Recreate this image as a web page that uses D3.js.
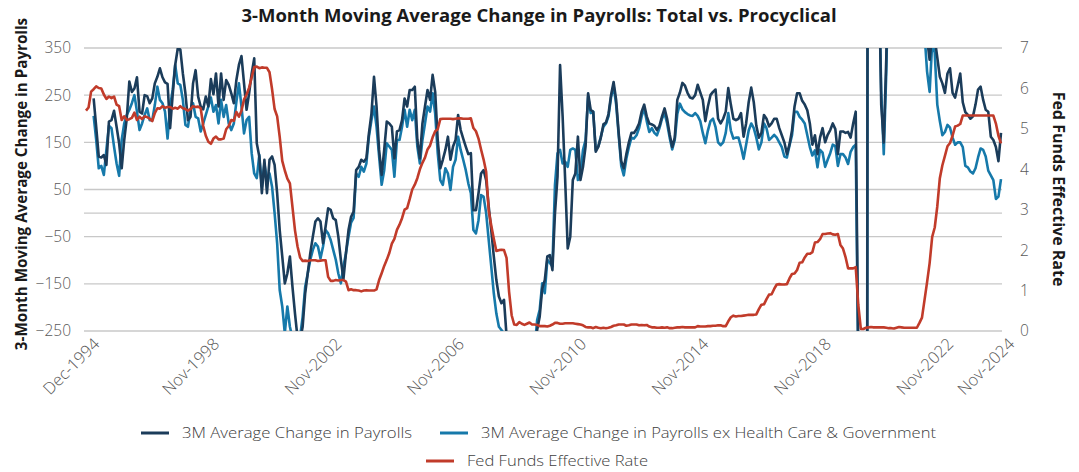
<!DOCTYPE html>
<html>
<head>
<meta charset="utf-8">
<script src="https://cdn.jsdelivr.net/npm/d3@7"></script>
<style>
  body { margin: 0; background: #fff; }
  svg { font-family: "Open Sans", "Noto Sans", sans-serif; }
</style>
</head>
<body>
<svg></svg>
<script>
var width = 1079;
var height = 472;

// monthly data, Dec-1994 .. Nov-2024 (thousands of jobs, 3M average)
var startMonth = new Date(1994, 11, 1);

var payrolls = [
  null,
  null, null, 243, 183, 120, 118, 123, 102, 194, 197, 217, 183,
  148, 95, 155, 201, 279, 257, 264, 288, 215, 211, 250, 248,
  233, 243, 275, 289, 307, 288, 277, 274, 180, 250, 314, 349,
  347, 296, 254, 197, 204, 275, 303, 247, 226, 220, 247, 226,
  284, 252, 296, 226, 296, 240, 282, 272, 254, 233, 282, 314,
  333, 275, 219, 254, 296, 328, 148, 120, 42, 113, 42, 113,
  120, 102, 42, -36, -92, -149, -128, -92, -156, -213, -265, -270,
  -241, -170, -128, -85, -50, -18, -11, -18, -64, -29, 10, 7,
  -11, -15, -50, -99, -140, -85, -36, -8, 3, 91, 98, 113,
  109, 116, 169, 211, 289, 226, 134, 81, 134, 194, 190, 183,
  116, 173, 176, 197, 243, 226, 261, 261, 268, 155, 116, 190,
  226, 261, 240, 293, 257, 155, 95, 113, 134, 162, 113, 141,
  155, 208, 176, 158, 141, 125, 127, 6, 6, 42, 84, 91,
  70, 14, -36, -92, -142, -177, -191, -184, -260, -380, -560, -690,
  -740, -780, -750, -690, -530, -430, -370, -300, -248, -220, -160, -142,
  -92, -89, -121, 0, 77, 314, 205, 70, -75, -50, 70, 84,
  162, 70, 98, 141, 254, 219, 215, 130, 141, 160, 188, 192,
  210, 250, 278, 240, 170, 110, 95, 125, 150, 170, 170, 178,
  190, 215, 230, 205, 190, 188, 185, 176, 185, 205, 222, 200,
  167, 140, 160, 240, 255, 276, 270, 255, 245, 243, 250, 272,
  256, 240, 195, 226, 250, 257, 262, 200, 190, 200, 215, 265,
  230, 200, 197, 200, 212, 162, 190, 235, 266, 235, 185, 160,
  170, 208, 200, 184, 190, 200, 200, 180, 165, 150, 125, 145,
  175, 226, 254, 254, 238, 230, 218, 190, 145, 165, 125, 160,
  180, 150, 166, 176, 190, 178, 125, 173, 173, 170, 172, 160,
  190, 215, -300, -7150, -6300, -4250, 3130, 2700, 1340, 990, 550, 230,
  150, 330, 640, 560, 540, 580, 760, 720, 560, 580, 560, 620,
  600, 650, 560, 480, 400, 370, 325, 380, 370, 330, 289, 275,
  255, 296, 307, 255, 245, 270, 296, 235, 214, 208, 200, 205,
  230, 262, 268, 240, 219, 215, 162, 155, 140, 110, 170
];

var payrollsExHcGov = [
  null,
  null, null, 206, 155, 95, 100, 81, 134, 185, 180, 141, 105,
  79, 155, 190, 208, 219, 233, 250, 215, 176, 190, 208, 222,
  197, 197, 229, 268, 240, 233, 215, 158, 226, 261, 314, 275,
  272, 240, 187, 183, 219, 233, 204, 201, 173, 190, 208, 226,
  245, 215, 229, 190, 240, 204, 229, 190, 176, 190, 236, 275,
  226, 169, 197, 204, 127, 84, 74, 123, 56, 105, 70, 84,
  56, 0, -64, -163, -198, -255, -198, -241, -265, -275, -280, -262,
  -220, -156, -128, -99, -78, -64, -71, -96, -71, -36, -43, -57,
  -78, -99, -128, -149, -113, -85, -50, -20, -10, 84, 77, 98,
  88, 105, 162, 197, 226, 183, 120, 60, 91, 148, 141, 134,
  77, 155, 155, 183, 219, 183, 219, 197, 219, 141, 105, 155,
  190, 226, 215, 254, 211, 127, 70, 60, 95, 84, 49, 98,
  113, 162, 134, 113, 91, 63, 42, -36, -43, -15, 38, 35,
  0, -57, -113, -170, -213, -241, -248, -255, -310, -420, -580, -700,
  -740, -770, -720, -650, -500, -410, -350, -290, -227, -205, -149, -170,
  -99, -106, -113, 60, 127, 134, 105, 109, 98, 134, 137, 134,
  70, 84, 134, 155, 247, 212, 215, 134, 141, 162, 183, 190,
  205, 245, 270, 230, 165, 100, 80, 115, 140, 160, 158, 165,
  180, 205, 222, 195, 172, 180, 170, 165, 180, 200, 212, 190,
  160, 135, 155, 210, 232, 220, 214, 210, 207, 206, 212, 206,
  195, 170, 148, 175, 195, 200, 182, 150, 144, 150, 170, 212,
  175, 158, 160, 160, 140, 115, 145, 175, 190, 180, 160, 135,
  150, 190, 180, 155, 160, 166, 160, 150, 140, 120, 118, 143,
  165, 215, 215, 204, 198, 190, 165, 140, 122, 133, 97, 134,
  128, 98, 113, 127, 145, 142, 100, 125, 125, 118, 104, 130,
  140, 145, -330, -5800, -5000, -3400, 2800, 2300, 1150, 880, 520, 260,
  125, 300, 560, 480, 470, 500, 620, 600, 470, 500, 470, 520,
  500, 560, 470, 420, 380, 300, 257, 360, 340, 230, 195, 165,
  172, 187, 181, 160, 145, 150, 150, 140, 100, 97, 88, 84,
  95, 118, 137, 134, 120, 90, 80, 70, 30, 35, 72
];

var fedFunds = [
  5.45,
  5.53, 5.92, 5.98, 6.05, 6.01, 6.00, 5.85, 5.74, 5.80, 5.76, 5.80, 5.60,
  5.56, 5.22, 5.31, 5.22, 5.24, 5.27, 5.40, 5.22, 5.30, 5.24, 5.31, 5.29,
  5.25, 5.19, 5.39, 5.51, 5.50, 5.56, 5.52, 5.54, 5.54, 5.50, 5.52, 5.50,
  5.56, 5.51, 5.49, 5.45, 5.49, 5.56, 5.54, 5.55, 5.51, 5.07, 4.83, 4.68,
  4.63, 4.76, 4.81, 4.74, 4.74, 4.76, 4.99, 5.07, 5.22, 5.20, 5.42, 5.30,
  5.45, 5.73, 5.85, 6.02, 6.27, 6.53, 6.54, 6.50, 6.52, 6.51, 6.51, 6.40,
  5.98, 5.49, 5.31, 4.80, 4.21, 3.97, 3.77, 3.65, 3.07, 2.49, 2.09, 1.82,
  1.73, 1.74, 1.73, 1.75, 1.75, 1.75, 1.73, 1.74, 1.75, 1.75, 1.34, 1.24,
  1.24, 1.26, 1.25, 1.26, 1.26, 1.22, 1.01, 1.03, 1.01, 1.01, 1.00, 0.98,
  1.00, 1.01, 1.00, 1.00, 1.00, 1.03, 1.26, 1.43, 1.61, 1.76, 1.93, 2.16,
  2.28, 2.50, 2.63, 2.79, 3.00, 3.04, 3.26, 3.50, 3.62, 3.78, 4.00, 4.16,
  4.29, 4.49, 4.59, 4.79, 4.94, 4.99, 5.24, 5.25, 5.25, 5.25, 5.25, 5.24,
  5.25, 5.26, 5.26, 5.25, 5.25, 5.25, 5.26, 5.02, 4.94, 4.76, 4.49, 4.24,
  3.94, 2.98, 2.61, 2.28, 1.98, 2.00, 2.01, 2.00, 1.81, 0.97, 0.39, 0.16,
  0.15, 0.22, 0.18, 0.15, 0.18, 0.21, 0.16, 0.16, 0.15, 0.12, 0.12, 0.12,
  0.11, 0.13, 0.16, 0.20, 0.20, 0.18, 0.18, 0.19, 0.19, 0.19, 0.19, 0.18,
  0.17, 0.16, 0.14, 0.10, 0.09, 0.09, 0.07, 0.10, 0.08, 0.07, 0.08, 0.07,
  0.08, 0.10, 0.13, 0.14, 0.16, 0.16, 0.16, 0.13, 0.14, 0.16, 0.16, 0.16,
  0.14, 0.15, 0.14, 0.15, 0.11, 0.09, 0.09, 0.08, 0.08, 0.09, 0.08, 0.09,
  0.07, 0.07, 0.08, 0.09, 0.09, 0.10, 0.09, 0.09, 0.09, 0.09, 0.09, 0.12,
  0.11, 0.11, 0.11, 0.12, 0.12, 0.13, 0.13, 0.14, 0.14, 0.12, 0.12, 0.24,
  0.34, 0.38, 0.36, 0.37, 0.37, 0.38, 0.39, 0.40, 0.40, 0.40, 0.41, 0.54,
  0.65, 0.66, 0.79, 0.90, 0.91, 1.04, 1.15, 1.16, 1.15, 1.15, 1.16, 1.30,
  1.41, 1.42, 1.51, 1.69, 1.70, 1.82, 1.91, 1.91, 1.95, 2.19, 2.20, 2.27,
  2.40, 2.40, 2.41, 2.42, 2.39, 2.38, 2.40, 2.13, 2.04, 1.83, 1.55, 1.55,
  1.55, 1.58, 0.65, 0.05, 0.05, 0.08, 0.09, 0.10, 0.09, 0.09, 0.09, 0.09,
  0.09, 0.08, 0.07, 0.07, 0.06, 0.08, 0.10, 0.09, 0.08, 0.08, 0.08, 0.08,
  0.08, 0.08, 0.20, 0.33, 0.77, 1.21, 1.68, 2.33, 2.56, 3.08, 3.78, 4.10,
  4.33, 4.57, 4.65, 4.83, 5.06, 5.08, 5.12, 5.33, 5.33, 5.33, 5.33, 5.33,
  5.33, 5.33, 5.33, 5.33, 5.33, 5.33, 5.33, 5.33, 5.13, 4.83, 4.64
];

var leftTicks = [350, 250, 150, 50, -50, -150, -250];
var rightTicks = [0, 1, 2, 3, 4, 5, 6, 7];
var xTickLabels = ["Dec-1994", "Nov-1998", "Nov-2002", "Nov-2006", "Nov-2010",
                   "Nov-2014", "Nov-2018", "Nov-2022", "Nov-2024"];
var seriesNames = ["3M Average Change in Payrolls",
                   "3M Average Change in Payrolls ex Health Care & Government",
                   "Fed Funds Effective Rate"];
var colors = ["#1b3c5a", "#1679aa", "#c13b2a"];

var plot = { left: 86, right: 1001, top: 48, bottom: 331 };

var fmt = d3.timeFormat("%b-%Y");
var months = d3.range(fedFunds.length).map(i => fmt(d3.timeMonth.offset(startMonth, i)));

var svg = d3.select("svg")
              .attr("width", width)
              .attr("height", height);

var x = d3.scalePoint().domain(months).range([plot.left, plot.right]);
var yLeft = d3.scaleLinear().domain([-250, 350]).range([plot.bottom, plot.top]);
var yRight = d3.scaleLinear().domain([0, 7]).range([plot.bottom, plot.top]);

// gridlines (left ticks plus the zero line)
svg.append("g")
   .selectAll("line")
   .data(leftTicks.concat([0]))
   .enter()
   .append("line")
     .attr("x1", plot.left - 2)
     .attr("x2", plot.right + 1)
     .attr("y1", d => yLeft(d))
     .attr("y2", d => yLeft(d))
     .attr("stroke", "#c8c8c8")
     .attr("stroke-width", 1.4);

// axes
var leftAxis = svg.append("g")
   .attr("transform", "translate(74,0)")
   .call(d3.axisLeft(yLeft).tickValues(leftTicks).tickSize(0).tickPadding(3));

var rightAxis = svg.append("g")
   .attr("transform", "translate(1015,0)")
   .call(d3.axisRight(yRight).tickValues(rightTicks).tickFormat(d3.format("d")).tickSize(0).tickPadding(5));

var bottomAxis = svg.append("g")
   .attr("transform", "translate(0," + plot.bottom + ")")
   .call(d3.axisBottom(x).tickValues(xTickLabels).tickSize(0));

[leftAxis, rightAxis, bottomAxis].forEach(function(g) {
  g.select(".domain").remove();
  g.selectAll("text")
     .attr("fill", "#595959")
     .style("font-size", "15.5px")
     .style("font-family", "'Open Sans', sans-serif")
     .style("font-weight", 300);
});

bottomAxis.selectAll("text")
   .attr("x", 0)
   .attr("y", 0)
   .attr("dy", "0.35em")
   .attr("text-anchor", "end")
   .attr("transform", "translate(10,10) rotate(-45)")
   .style("font-size", "16.5px");

// lines, clipped to the plot box
svg.append("clipPath")
   .attr("id", "plotClip")
   .append("rect")
     .attr("x", plot.left - 3)
     .attr("y", plot.top)
     .attr("width", plot.right - plot.left + 6)
     .attr("height", plot.bottom - plot.top);

var linesG = svg.append("g").attr("clip-path", "url(#plotClip)");

function drawLine(values, scale, color) {
  var line = d3.line()
                 .defined(d => d != null)
                 .x((d, i) => x(months[i]))
                 .y(d => scale(d));
  linesG.append("path")
     .datum(values)
     .attr("d", line)
     .attr("fill", "none")
     .attr("stroke", color)
     .attr("stroke-width", 2.6)
     .attr("stroke-linejoin", "round");
}

drawLine(payrollsExHcGov, yLeft, colors[1]);
drawLine(payrolls, yLeft, colors[0]);
drawLine(fedFunds, yRight, colors[2]);

// title and axis titles
svg.append("text")
   .attr("x", 539)
   .attr("y", 22)
   .attr("text-anchor", "middle")
   .attr("fill", "#1a1a1a")
   .style("font-size", "18.5px")
   .style("font-weight", "bold")
   .text("3-Month Moving Average Change in Payrolls: Total vs. Procyclical");

svg.append("text")
   .attr("transform", "translate(22,184) rotate(-90)")
   .attr("text-anchor", "middle")
   .attr("dy", "0.35em")
   .attr("fill", "#1a1a1a")
   .style("font-size", "15.2px")
   .style("font-weight", "bold")
   .text("3-Month Moving Average Change in Payrolls");

svg.append("text")
   .attr("transform", "translate(1059,189) rotate(90)")
   .attr("text-anchor", "middle")
   .attr("dy", "0.35em")
   .attr("fill", "#1a1a1a")
   .style("font-size", "16px")
   .style("font-weight", "bold")
   .text("Fed Funds Effective Rate");

// legend
var legendItems = [
  { name: seriesNames[0], color: colors[0], x: 141, y: 433, w: 230 },
  { name: seriesNames[1], color: colors[1], x: 440, y: 433, w: 455 },
  { name: seriesNames[2], color: colors[2], x: 426, y: 461, w: 181 }
];

var legend = svg.append("g")
   .selectAll("g")
   .data(legendItems)
   .enter()
   .append("g")
     .attr("transform", d => "translate(" + d.x + "," + d.y + ")");

legend.append("line")
   .attr("x1", 0)
   .attr("x2", 28)
   .attr("stroke", d => d.color)
   .attr("stroke-width", 3);

legend.append("text")
   .attr("x", 41)
   .attr("dy", "0.35em")
   .attr("fill", "#404040")
   .attr("textLength", d => d.w)
   .attr("lengthAdjust", "spacingAndGlyphs")
   .style("font-size", "15px")
   .style("font-weight", 300)
   .text(d => d.name);
</script>
</body>
</html>
